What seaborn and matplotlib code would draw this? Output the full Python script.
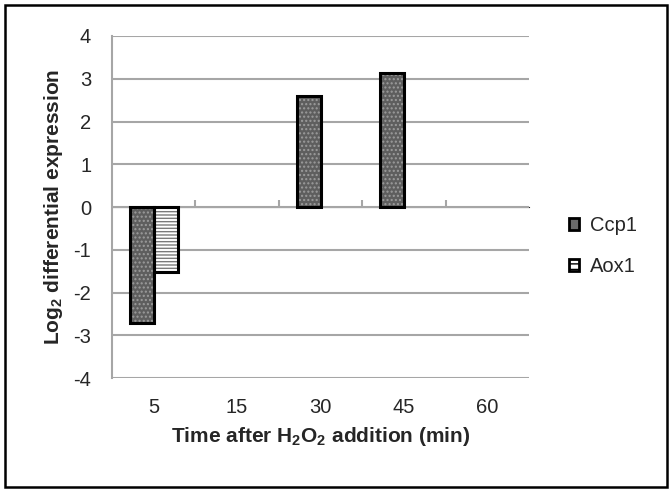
import matplotlib
matplotlib.use("Agg")
import matplotlib.pyplot as plt
import seaborn as sns
import pandas as pd
import numpy as np
from matplotlib.patches import Rectangle, Patch

times = ["5", "15", "30", "45", "60"]
genes = ["Ccp1", "Aox1"]
ccp1 = [-2.71, np.nan, 2.6, 3.13, np.nan]
aox1 = [-1.52, np.nan, np.nan, np.nan, np.nan]
yticks = [-4, -3, -2, -1, 0, 1, 2, 3, 4]

rows = []
for t, c, a in zip(times, ccp1, aox1):
    if not np.isnan(c):
        rows.append({"time": t, "gene": "Ccp1", "value": c})
    if not np.isnan(a):
        rows.append({"time": t, "gene": "Aox1", "value": a})
df = pd.DataFrame(rows)

sns.set_style("white")
plt.rcParams["font.family"] = ["Liberation Sans", "DejaVu Sans"]
plt.rcParams["mathtext.default"] = "regular"
plt.rcParams["mathtext.fontset"] = "custom"
plt.rcParams["mathtext.rm"] = "Liberation Sans"
plt.rcParams["mathtext.bf"] = "Liberation Sans:bold"
plt.rcParams["hatch.linewidth"] = 1.0

fig = plt.figure(figsize=(6.72, 4.91), dpi=100)
ax = fig.add_axes([0.1667, 0.230, 0.6205, 0.6967])

fills = {"Ccp1": "#5e5e5e", "Aox1": "white"}
hatch_cols = {"Ccp1": "#9c9c9c", "Aox1": "#7a7a7a"}
hatches = {"Ccp1": "....", "Aox1": "-----"}

sns.barplot(data=df, x="time", y="value", hue="gene", order=times,
            hue_order=genes, palette=fills, width=0.575, dodge=True,
            linewidth=0, ax=ax, legend=False, zorder=3)

for container, g in zip(ax.containers, genes):
    for bar in container:
        bar.set_hatch(hatches[g])
        bar.set_edgecolor(hatch_cols[g])
        bar.set_facecolor(fills[g])
        bar.set_linewidth(0)
        if np.isnan(bar.get_height()):
            continue
        outline = Rectangle(bar.get_xy(), bar.get_width(), bar.get_height(),
                            fill=False, edgecolor="black", linewidth=2.2, zorder=4)
        ax.add_patch(outline)

ax.set_ylim(-4, 4)
ax.set_xlim(-0.5, 4.5)
ax.set_yticks(yticks)
ax.set_yticklabels([str(v) for v in yticks], fontsize=14.5)
ax.set_xticks(range(len(times)))
ax.set_xticklabels(times, fontsize=14.5)
ax.tick_params(axis="x", length=0, pad=14)
ax.tick_params(axis="y", length=5, width=1.5, color="#a6a6a6", pad=10)

ax.grid(axis="y", color="#a6a6a6", linewidth=1.5, zorder=0)
ax.set_axisbelow(True)
for s in ["top", "right", "bottom"]:
    ax.spines[s].set_visible(False)
ax.spines["left"].set_color("#a6a6a6")
ax.spines["left"].set_linewidth(1.5)

sec = ax.secondary_xaxis(0.5)
sec.set_xticks([0.5, 1.5, 2.5, 3.5])
sec.set_xticklabels([])
sec.tick_params(axis="x", direction="out", length=5, width=1.5, color="#a6a6a6")
sec.spines["bottom"].set_visible(False)

ax.set_ylabel("Log$_2$ differential expression", fontsize=15, fontweight="bold", labelpad=6)
ax.set_xlabel("Time after H$_2$O$_2$ addition (min)", fontsize=15, fontweight="bold", labelpad=6)

leg_fills = {"Ccp1": "#6a6a6a", "Aox1": "white"}
leg_hatches = {"Ccp1": None, "Aox1": "---"}
handles = [Patch(facecolor=leg_fills[g], edgecolor="black", hatch=leg_hatches[g], linewidth=2)
           for g in genes]
fig.legend(handles, genes, loc="center left", bbox_to_anchor=(0.847, 0.499),
           frameon=False, fontsize=14.5, handlelength=0.5, handleheight=0.5,
           handletextpad=0.55, labelspacing=1.1, borderpad=0, borderaxespad=0)

fig.patches.append(Rectangle((0.008, 0.008), 0.984, 0.982, transform=fig.transFigure,
                             fill=False, edgecolor="black", linewidth=1.8))

fig.savefig("out.png", dpi=100)
